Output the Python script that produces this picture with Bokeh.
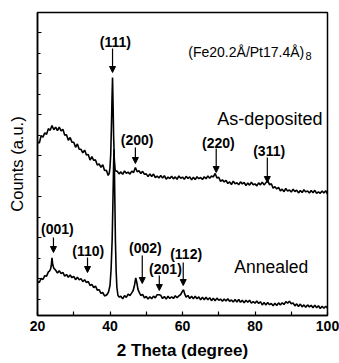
from bokeh.plotting import figure
from bokeh.models import Label, Arrow, NormalHead, FixedTicker, CustomJSTickFormatter
from bokeh.embed import file_html
from bokeh.resources import INLINE

# XRD scans of the (Fe20.2Å/Pt17.4Å)8 multilayer, 2-theta in degrees, counts in a.u.
as_dep_theta = [
    20.0, 20.5, 21.0, 21.5, 22.0, 22.5, 23.0, 23.5, 24.0, 24.5,
    25.0, 25.5, 26.0, 26.5, 27.0, 27.5, 28.0, 28.5, 29.0, 29.5,
    30.0, 30.5, 31.0, 31.5, 32.0, 32.5, 33.0, 33.5, 34.0, 34.5,
    35.0, 35.5, 36.0, 36.5, 37.0, 37.5, 38.0, 38.5, 39.0, 39.5,
    39.8, 40.0, 40.2, 40.4, 40.55, 40.7, 40.85, 41.0, 41.2, 41.4, 41.7,
    42.0, 42.5, 43.0, 43.5, 44.0, 44.5, 45.0, 45.5, 46.0, 46.5,
    47.0, 47.5, 48.0, 48.5, 49.0, 49.5, 50.0, 50.5, 51.0, 51.5,
    52.0, 52.5, 53.0, 53.5, 54.0, 54.5, 55.0, 55.5, 56.0, 56.5,
    57.0, 57.5, 58.0, 58.5, 59.0, 59.5, 60.0, 60.5, 61.0, 61.5,
    62.0, 62.5, 63.0, 63.5, 64.0, 64.5, 65.0, 65.5, 66.0, 66.5,
    67.0, 67.5, 68.0, 68.5, 69.0, 69.5, 70.0, 70.5, 71.0, 71.5,
    72.0, 72.5, 73.0, 73.5, 74.0, 74.5, 75.0, 75.5, 76.0, 76.5,
    77.0, 77.5, 78.0, 78.5, 79.0, 79.5, 80.0, 80.5, 81.0, 81.5,
    82.0, 82.5, 83.0, 83.5, 84.0, 84.5, 85.0, 85.5, 86.0, 86.5,
    87.0, 87.5, 88.0, 88.5, 89.0, 89.5, 90.0, 90.5, 91.0, 91.5,
    92.0, 92.5, 93.0, 93.5, 94.0, 94.5, 95.0, 95.5, 96.0, 96.5,
    97.0, 97.5, 98.0, 98.5, 99.0, 99.5, 100.0,
]
as_dep_counts = [
    868, 862, 899, 892, 913, 906, 934, 926, 950, 929,
    942, 925, 942, 923, 931, 902, 904, 876, 890, 867,
    866, 841, 858, 831, 831, 813, 827, 802, 805, 777,
    794, 776, 778, 752, 758, 741, 754, 725, 726, 700,
    712, 740, 805, 950, 1085, 1190, 1055, 895, 775, 728, 722,
    721, 708, 718, 706, 723, 711, 717, 707, 722, 715,
    740, 719, 724, 710, 721, 706, 708, 695, 708, 695,
    707, 690, 697, 688, 700, 687, 699, 682, 692, 685,
    696, 683, 693, 681, 698, 686, 692, 681, 696, 685,
    693, 678, 691, 680, 694, 684, 690, 680, 694, 684,
    698, 686, 697, 693, 710, 688, 691, 671, 678, 668,
    676, 660, 668, 655, 672, 659, 664, 654, 668, 658,
    665, 650, 662, 652, 666, 654, 658, 648, 663, 653,
    667, 653, 664, 674, 654, 659, 637, 644, 633, 640,
    623, 632, 619, 635, 622, 628, 617, 631, 620, 627,
    613, 625, 615, 629, 618, 623, 612, 625, 614, 626,
    611, 618, 611, 623, 612, 624, 607,
]

annealed_theta = [
    20.0, 20.5, 21.0, 21.5, 22.0, 22.5, 23.0, 23.3, 23.6, 23.8,
    24.0, 24.2, 24.5, 25.0, 25.5, 26.0, 26.5, 27.0, 27.5, 28.0,
    28.5, 29.0, 29.5, 30.0, 30.5, 31.0, 31.5, 32.0, 32.5, 33.0,
    33.5, 34.0, 34.5, 35.0, 35.5, 36.0, 36.5, 37.0, 37.5, 38.0,
    38.5, 38.8, 39.2, 39.6, 40.0, 40.3, 40.6, 40.8, 41.0, 41.1,
    41.2, 41.35, 41.5, 41.7, 41.9, 42.2, 42.6, 43.0, 43.5, 44.0,
    44.5, 45.0, 45.5, 46.0, 46.4, 46.8, 47.1, 47.4, 47.7, 48.0,
    48.5, 49.0, 49.5, 50.0, 50.5, 51.0, 51.5, 52.0, 52.5, 53.0,
    53.5, 54.0, 54.5, 55.0, 55.5, 56.0, 56.5, 57.0, 57.5, 58.0,
    58.5, 59.0, 59.5, 60.0, 60.3, 60.6, 61.0, 61.5, 62.0, 62.5,
    63.0, 63.5, 64.0, 64.5, 65.0, 65.5, 66.0, 66.5, 67.0, 67.5,
    68.0, 68.5, 69.0, 69.5, 70.0, 70.5, 71.0, 71.5, 72.0, 72.5,
    73.0, 73.5, 74.0, 74.5, 75.0, 75.5, 76.0, 76.5, 77.0, 77.5,
    78.0, 78.5, 79.0, 79.5, 80.0, 80.5, 81.0, 81.5, 82.0, 82.5,
    83.0, 83.5, 84.0, 84.5, 85.0, 85.5, 86.0, 86.5, 87.0, 87.5,
    88.0, 88.5, 89.0, 89.5, 90.0, 90.5, 91.0, 91.5, 92.0, 92.5,
    93.0, 93.5, 94.0, 94.5, 95.0, 95.5, 96.0, 96.5, 97.0, 97.5,
    98.0, 98.5, 99.0, 99.5, 100.0,
]
annealed_counts = [
    170, 165, 186, 180, 199, 197, 218, 222, 232, 250,
    288, 255, 236, 227, 212, 224, 209, 216, 197, 205,
    191, 203, 189, 196, 179, 192, 178, 184, 169, 179,
    164, 170, 150, 156, 140, 147, 127, 129, 111, 115,
    98, 100, 105, 118, 150, 230, 380, 560, 760, 830,
    760, 560, 370, 220, 140, 100, 92, 96, 83, 99,
    91, 107, 100, 113, 125, 155, 188, 165, 132, 118,
    100, 106, 88, 95, 82, 94, 84, 97, 88, 104,
    104, 101, 85, 95, 82, 96, 85, 94, 85, 99,
    89, 98, 105, 122, 128, 108, 92, 100, 85, 96,
    84, 96, 84, 93, 78, 91, 79, 91, 79, 89,
    74, 86, 74, 87, 76, 82, 71, 83, 72, 84,
    71, 78, 67, 80, 68, 80, 66, 76, 63, 76,
    66, 76, 62, 70, 61, 73, 60, 69, 53, 65,
    53, 65, 54, 60, 49, 61, 50, 63, 53, 64,
    55, 69, 62, 71, 59, 63, 48, 58, 45, 57,
    43, 53, 41, 53, 43, 51, 39, 52, 39, 49,
    35, 46, 36, 46, 37,
]

# Reflection labels: (text, arrow 2-theta, arrow top, arrow tip, label 2-theta, label baseline)
reflections = [
    ("(111)", 40.7, 1335, 1215, 41.5, 1370),
    ("(200)", 47.0, 840, 760, 47.5, 880),
    ("(220)", 69.3, 835, 715, 69.9, 865),
    ("(311)", 83.4, 790, 665, 83.9, 825),
    ("(001)", 24.4, 390, 315, 25.5, 435),
    ("(110)", 33.8, 290, 215, 34.0, 325),
    ("(002)", 48.9, 300, 160, 49.75, 340),
    ("(201)", 53.6, 200, 125, 55.3, 235),
    ("(112)", 60.2, 265, 150, 61.0, 310),
]

FONT = "Liberation Sans"

p = figure(
    width=339, height=363,
    x_range=(20, 100), y_range=(0, 1515),
    min_border_left=37, min_border_right=12, min_border_top=12, min_border_bottom=48,
    output_backend="svg", toolbar_location=None,
)
p.grid.visible = False
p.background_fill_color = "white"
p.border_fill_color = "white"
p.outline_line_color = "black"
p.outline_line_width = 1.5

p.line(as_dep_theta, as_dep_counts, line_color="black", line_width=1.6)
p.line(annealed_theta, annealed_counts, line_color="black", line_width=1.6)

for name, ax, ay0, ay1, lx, ly in reflections:
    p.add_layout(Arrow(
        end=NormalHead(size=6, fill_color="black", line_color="black", line_width=1),
        x_start=ax, y_start=ay0, x_end=ax, y_end=ay1,
        line_color="black", line_width=1.2,
    ))
    p.add_layout(Label(
        x=lx, y=ly, text=name, text_align="center", text_baseline="alphabetic",
        text_font=FONT, text_font_size="14px", text_font_style="bold", text_color="black",
    ))

# sample label with the period count as a subscript
p.add_layout(Label(x=61.6, y=1320, text="(Fe20.2Å/Pt17.4Å)", text_align="left",
                   text_baseline="alphabetic", text_font=FONT, text_font_size="14px",
                   text_color="black"))
p.add_layout(Label(x=93.9, y=1298, text="8", text_align="left",
                   text_baseline="alphabetic", text_font=FONT, text_font_size="11px",
                   text_color="black"))
p.add_layout(Label(x=98.6, y=985, text="As-deposited", text_align="right",
                   text_baseline="alphabetic", text_font=FONT, text_font_size="18px",
                   text_color="black"))
p.add_layout(Label(x=74.3, y=245, text="Annealed", text_align="left",
                   text_baseline="alphabetic", text_font=FONT, text_font_size="17.5px",
                   text_color="black"))

# x axis
xa = p.xaxis[0]
xa.ticker = FixedTicker(ticks=[20, 40, 60, 80, 100], minor_ticks=[30, 50, 70, 90])
xa.axis_line_width = 1.5
xa.major_tick_in = 4
xa.major_tick_out = 0
xa.minor_tick_in = 4
xa.minor_tick_out = 0
xa.major_tick_line_width = 1.2
xa.minor_tick_line_width = 1.2
xa.major_label_standoff = 5
xa.major_label_text_font = FONT
xa.major_label_text_font_size = "14px"
xa.major_label_text_font_style = "bold"
xa.major_label_text_color = "black"
xa.axis_label = "2 Theta (degree)"
xa.axis_label_standoff = 7
xa.axis_label_text_font = FONT
xa.axis_label_text_font_size = "17px"
xa.axis_label_text_font_style = "bold"
xa.axis_label_text_color = "black"

# y axis (arbitrary units, ticks only)
ya = p.yaxis[0]
ya.ticker = FixedTicker(ticks=[185, 390, 595, 800, 1005, 1210, 1415],
                        minor_ticks=[82.5, 287.5, 492.5, 697.5, 902.5, 1107.5, 1312.5])
ya.formatter = CustomJSTickFormatter(code="return '';")
ya.axis_line_width = 1.5
ya.major_tick_in = 4
ya.major_tick_out = 0
ya.minor_tick_in = 3
ya.minor_tick_out = 0
ya.major_tick_line_width = 1.2
ya.minor_tick_line_width = 1.2
ya.major_label_standoff = 0
ya.axis_label = "Counts (a.u.)"
ya.axis_label_standoff = 12
ya.axis_label_text_font = FONT
ya.axis_label_text_font_size = "16.5px"
ya.axis_label_text_font_style = "normal"
ya.axis_label_text_color = "black"

open("out.html", "w").write(file_html(p, INLINE))
